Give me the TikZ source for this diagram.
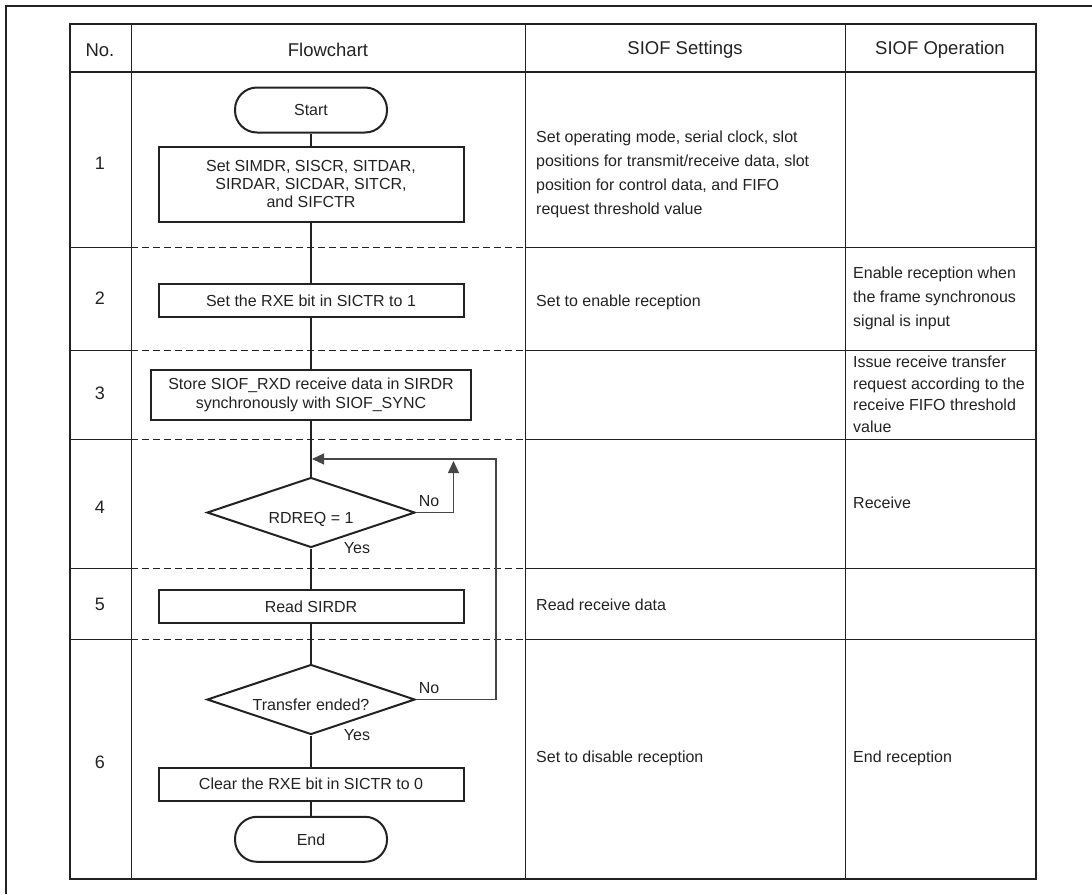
\documentclass[tikz,border=0pt]{standalone}
\usepackage{fontspec}
\setmainfont{Liberation Sans}
\usetikzlibrary{shapes,arrows.meta,positioning,calc}
\definecolor{inkgray}{RGB}{34,34,34}
\definecolor{loopgray}{RGB}{70,70,70}

\begin{document}
\begin{tikzpicture}[x=1pt, y=-1pt,
    term/.style={rectangle, rounded corners=22pt, draw=inkgray, line width=2pt, text=inkgray,
                 minimum width=152pt, minimum height=45pt, inner sep=0pt, font=\fontsize{16}{18}\selectfont},
    proc/.style={rectangle, draw=inkgray, line width=2pt, text=inkgray, minimum width=305pt,
                 minimum height=33pt, align=center, inner sep=2pt, font=\fontsize{16}{18.3}\selectfont},
    dec/.style={diamond, aspect=3, draw=inkgray, line width=2pt, text=inkgray, minimum width=208pt,
                minimum height=70pt, inner sep=0pt, text height=21pt, text depth=0pt, font=\fontsize{16}{18}\selectfont},
    flow/.style={draw=inkgray, line width=2pt},
    loopline/.style={draw=loopgray, line width=1.1pt},
    tip/.style={-{Triangle[length=12pt,width=11pt]}},
    hdr/.style={font=\fontsize{18.5}{22}\selectfont, text=inkgray},
    num/.style={font=\fontsize{18}{22}\selectfont, text=inkgray},
    txt/.style={anchor=west, align=left, inner sep=0pt, text=inkgray, font=\fontsize{16}{24}\selectfont},
    lbl/.style={inner sep=0pt, text=inkgray, font=\fontsize{16}{18}\selectfont},
    thickrule/.style={draw=inkgray, line width=2.3pt},
    thinrule/.style={draw=inkgray, line width=1pt}
]
\useasboundingbox (0,0) rectangle (1092,894);

% page frame
\draw[thickrule] (6,894) -- (6,6) -- (1092,6);

% table grid
\draw[thickrule] (70,24) rectangle (1036,879);
\draw[draw=inkgray, line width=1.8pt] (70,72) -- (1036,72);
\foreach \x in {131,525,845} \draw[thinrule] (\x,24) -- (\x,879);
\foreach \y in {247,350,439,568,639} {
  \draw[thinrule] (70,\y) -- (131,\y);
  \draw[thinrule, dash pattern=on 7pt off 4pt] (131,\y) -- (525,\y);
  \draw[thinrule] (525,\y) -- (1036,\y);
}

\node[hdr] (hno) at (100,50) {No.};
\node[hdr] (hflow) at (328,50) {Flowchart};
\node[hdr] (hset) at (685,50) {SIOF Settings};
\node[hdr] (hop) at (940,50) {SIOF Operation};

\foreach \n/\y in {1/163,2/298,3/393,4/507,5/604,6/762}
  \node[num] (n\n) at (100,\y) {\n};

% flowchart
\node[term] (start) at (311,110) {Start};
\node[proc, minimum height=75pt] (setregs) at (311,184) {Set SIMDR, SISCR, SITDAR,\\SIRDAR, SICDAR, SITCR,\\and SIFCTR};
\node[proc] (rxeon) at (311,300.5) {Set the RXE bit in SICTR to 1};
\node[proc, minimum width=320pt, minimum height=50pt, font=\fontsize{16}{19}\selectfont] (store) at (311,394.7) {Store SIOF\_RXD receive data in SIRDR\\synchronously with SIOF\_SYNC};
\node[dec] (rdreq) at (311,512.5) {RDREQ = 1};
\node[proc] (readrd) at (311,606.3) {Read SIRDR};
\node[dec] (ended) at (311,699.5) {Transfer ended?};
\node[proc] (rxeoff) at (311,784) {Clear the RXE bit in SICTR to 0};
\node[term] (finish) at (311,839.3) {End};

\draw[flow] (start) -- (setregs);
\draw[flow] (setregs) -- (rxeon);
\draw[flow] (rxeon) -- (store);
\draw[flow] (store) -- (rdreq);
\draw[flow] (rdreq) -- (readrd);
\draw[flow] (readrd) -- (ended);
\draw[flow] (ended) -- (rxeoff);
\draw[flow] (rxeoff) -- (finish);

% loops back
\coordinate (merge) at (312,459);
\coordinate (loopx) at (496,459);
\coordinate (noup) at (453.5,461);
\draw[loopline, tip] (rdreq.east) -| (noup);
\draw[loopline, tip] (ended.east) -| (loopx) -- (merge);

\node[lbl] (no1) at ([xshift=13pt,yshift=11pt]rdreq.east) {No};
\node[lbl] (yes1) at ([xshift=46pt]rdreq.south) {Yes};
\node[lbl] (no2) at ([xshift=13pt,yshift=11pt]ended.east) {No};
\node[lbl] (yes2) at ([xshift=46pt]ended.south) {Yes};

% settings and operation
\node[txt] (set1) at (536,174) {Set operating mode, serial clock, slot\\positions for transmit/receive data, slot\\position for control data, and FIFO\\request threshold value};
\node[txt] (set2) at (536,302.7) {Set to enable reception};
\node[txt] (set5) at (536,605) {Read receive data};
\node[txt] (set6) at (536,758.3) {Set to disable reception};

\node[txt] (op2) at (853,298.8) {Enable reception when\\the frame synchronous\\signal is input};
\node[txt, font=\fontsize{16}{21.7}\selectfont] (op3) at (853,394.2) {Issue receive transfer\\request according to the\\receive FIFO threshold\\value};
\node[txt] (op4) at (853,502.7) {Receive};
\node[txt] (op6) at (853,758.3) {End reception};

\end{tikzpicture}
\end{document}
